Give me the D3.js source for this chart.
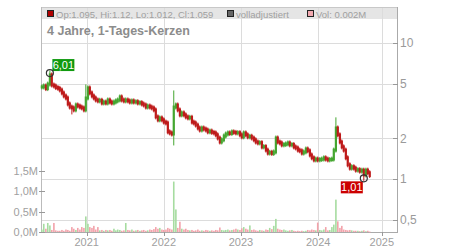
<!DOCTYPE html>
<html>
<head>
<meta charset="utf-8">
<script src="https://cdn.jsdelivr.net/npm/d3@7"></script>
<style>
  body { margin: 0; background: #fff; }
  svg { display: block; font-family: "Liberation Sans", Arial, sans-serif; }
</style>
</head>
<body>
<svg id="chart" width="450" height="250"></svg>
<script>
// candles: one close every ~9.5 days, open = previous close
const startDate = new Date(2020, 5, 3);
const stepDays = 9.46;
const closes = [
  4.75, 4.83, 4.62, 4.99, 5.82, 4.91, 4.83, 4.70, 4.64, 4.51,
  4.29, 4.08, 3.94, 3.56, 3.38, 3.33, 3.22, 3.50, 3.44, 3.38,
  3.33, 3.22, 3.94, 4.67, 4.29, 4.08, 3.94, 3.81, 3.75, 3.79,
  3.62, 3.68, 3.62, 3.81, 3.68, 3.62, 3.68, 3.75, 3.81, 4.01,
  3.81, 3.75, 3.81, 3.75, 3.68, 3.75, 3.68, 3.70, 3.62, 3.64,
  3.56, 3.50, 3.38, 3.44, 3.38, 3.33, 3.22, 2.86, 2.72, 2.81,
  2.72, 2.62, 2.58, 2.22, 2.18, 2.14, 3.38, 3.50, 3.22, 2.96,
  3.06, 2.96, 2.86, 2.81, 2.84, 2.62, 2.58, 2.49, 2.37, 2.29,
  2.37, 2.33, 2.29, 2.22, 2.25, 2.20, 2.18, 2.11, 2.00, 1.87,
  1.94, 2.07, 2.14, 2.18, 2.16, 2.22, 2.20, 2.18, 2.19, 2.11,
  2.04, 2.18, 2.11, 2.04, 2.06, 2.00, 1.94, 1.87, 1.84, 1.85,
  1.72, 1.73, 1.63, 1.55, 1.57, 1.54, 1.58, 2.00, 1.87, 1.84,
  1.78, 1.79, 1.81, 1.84, 1.78, 1.79, 1.72, 1.69, 1.63, 1.61,
  1.55, 1.58, 1.66, 1.61, 1.50, 1.43, 1.38, 1.40, 1.38, 1.39,
  1.40, 1.43, 1.40, 1.38, 1.39, 1.40, 1.63, 2.37, 2.11, 1.87,
  1.72, 1.63, 1.43, 1.27, 1.20, 1.23, 1.20, 1.16, 1.17, 1.14,
  1.16, 1.07, 1.16, 1.11, 1.06
];
// volume in millions, same index as closes
const volumes = [
  0.06, 0.20, 0.08, 0.22, 0.16, 0.05, 0.22, 0.04, 0.03, 0.03,
  0.05, 0.03, 0.06, 0.05, 0.03, 0.12, 0.08, 0.05, 0.10, 0.06,
  0.12, 0.10, 0.38, 0.20, 0.12, 0.10, 0.15, 0.06, 0.12, 0.04,
  0.05, 0.03, 0.05, 0.04, 0.05, 0.03, 0.08, 0.04, 0.06, 0.05,
  0.03, 0.04, 0.22, 0.05, 0.04, 0.06, 0.03, 0.04, 0.05, 0.03,
  0.04, 0.05, 0.03, 0.04, 0.06, 0.05, 0.07, 0.12, 0.08, 0.10,
  0.06, 0.05, 0.06, 0.10, 0.08, 0.06, 1.23, 0.55, 0.10, 0.25,
  0.08, 0.06, 0.08, 0.05, 0.04, 0.05, 0.03, 0.04, 0.06, 0.03,
  0.04, 0.03, 0.05, 0.04, 0.03, 0.04, 0.03, 0.05, 0.04, 0.11,
  0.05, 0.04, 0.05, 0.06, 0.04, 0.05, 0.06, 0.08, 0.06, 0.05,
  0.09, 0.12, 0.08, 0.06, 0.16, 0.05, 0.06, 0.04, 0.03, 0.05,
  0.04, 0.03, 0.06, 0.05, 0.10, 0.07, 0.15, 0.32, 0.08, 0.06,
  0.05, 0.06, 0.04, 0.03, 0.04, 0.05, 0.03, 0.02, 0.03, 0.02,
  0.03, 0.02, 0.03, 0.05, 0.04, 0.06, 0.05, 0.04, 0.23, 0.05,
  0.04, 0.06, 0.12, 0.04, 0.05, 0.12, 0.18, 0.79, 0.26, 0.10,
  0.15, 0.06, 0.05, 0.04, 0.05, 0.04, 0.03, 0.03, 0.03, 0.02,
  0.03, 0.04, 0.02, 0.03, 0.01
];
// wick extremes that stick out of the bodies: [index, value]
const wickHighs = [[4, 6.01], [22, 4.75], [66, 4.29], [147, 2.72]];
const wickLows = [[15, 3.11], [66, 1.84], [161, 1.01]];
const highMark = {index: 4, value: 6.01};
const lowMark = {index: 161, value: 1.01};

const priceTicks = [10, 5, 2, 1, 0.5];
const volumeTicks = [0, 0.5, 1.0, 1.5];
const yearTicks = [
  {label: "2021", date: new Date(2021, 0, 1)},
  {label: "2022", date: new Date(2022, 0, 1)},
  {label: "2023", date: new Date(2023, 0, 1)},
  {label: "2024", date: new Date(2024, 0, 1)},
  {label: "2025", date: new Date(2024, 9, 28)}
];
const legendItems = [
  {text: "Op:1.095, Hi:1.12, Lo:1.012, Cl:1.059", color: "#b00000"},
  {text: "volladjustiert", color: "#666666"},
  {text: "Vol: 0.002M", color: "#f2a9b0"}
];
const title = "4 Jahre, 1-Tages-Kerzen";

const de = d3.formatLocale({decimal: ",", thousands: ".", grouping: [3], currency: ["", " €"]});
const fmtPrice = de.format(".2f");
const fmtVol = v => de.format(".1f")(v) + "M";
const fmtAxis = v => v < 1 ? de.format(".1f")(v) : String(v);

const margin = {top: 7, right: 53, bottom: 18, left: 41};
const width = 450 - margin.left - margin.right;
const height = 250 - margin.top - margin.bottom;
const pLeft = margin.left, pRight = margin.left + width;
const pTop = margin.top, pBottom = margin.top + height;

const data = closes.map((c, i) => {
  const open = i === 0 ? c : closes[i - 1];
  const hi = wickHighs.find(w => w[0] === i);
  const lo = wickLows.find(w => w[0] === i);
  return {
    date: d3.timeDay.offset(startDate, Math.round(i * stepDays)),
    open: open,
    close: c,
    high: hi ? hi[1] : Math.max(open, c),
    low: lo ? lo[1] : Math.min(open, c),
    vol: volumes[i]
  };
});

const x = d3.scaleTime()
  .domain([new Date(2020, 4, 30), new Date(2025, 0, 8)])
  .range([pLeft, pRight]);
const y = d3.scaleLog().domain([0.407, 18.4]).range([pBottom, pTop]);
const yVol = d3.scaleLinear().domain([0, 1.5]).range([pBottom, pBottom - 61.5]);

const svg = d3.select("#chart");
const crisp = v => Math.round(v) + 0.5;
const up = d => d.close >= d.open;

// header band with legend
svg.append("rect")
  .attr("x", pLeft).attr("y", pTop)
  .attr("width", width).attr("height", 12)
  .attr("fill", "#e5e5e5");

// grid
svg.append("g").selectAll("line")
  .data(yearTicks)
  .join("line")
  .attr("x1", d => crisp(x(d.date))).attr("x2", d => crisp(x(d.date)))
  .attr("y1", pTop).attr("y2", pBottom)
  .attr("stroke", "#dcdcdc");
svg.append("g").selectAll("line")
  .data(priceTicks)
  .join("line")
  .attr("x1", pLeft).attr("x2", pRight)
  .attr("y1", d => crisp(y(d))).attr("y2", d => crisp(y(d)))
  .attr("stroke", "#dcdcdc");

// frame
svg.append("line").attr("x1", pLeft).attr("x2", pRight)
  .attr("y1", pTop + 0.5).attr("y2", pTop + 0.5).attr("stroke", "#c8c8c8");
svg.append("line").attr("x1", pLeft + 0.5).attr("x2", pLeft + 0.5)
  .attr("y1", pTop).attr("y2", pBottom).attr("stroke", "#bbbbbb");
svg.append("line").attr("x1", pRight + 0.5).attr("x2", pRight + 0.5)
  .attr("y1", pTop).attr("y2", pBottom + 1).attr("stroke", "#aaaaaa");
svg.append("line").attr("x1", pLeft).attr("x2", pRight + 1)
  .attr("y1", pBottom + 0.5).attr("y2", pBottom + 0.5).attr("stroke", "#aaaaaa");

// legend
const legend = svg.append("g").attr("font-size", 9.5).attr("fill", "#a0a0a0");
const legendX = [pLeft + 6, pLeft + 186, pLeft + 266];
legendItems.forEach((d, i) => {
  legend.append("rect")
    .attr("x", legendX[i] + 0.5).attr("y", pTop + 3.5)
    .attr("width", 6).attr("height", 6)
    .attr("fill", d.color).attr("stroke", "#222");
  legend.append("text")
    .attr("x", legendX[i] + 9).attr("y", pTop + 10.5)
    .text(d.text);
});

svg.append("text")
  .attr("x", pLeft + 6).attr("y", 35)
  .attr("font-size", 12.5).attr("font-weight", "bold")
  .attr("fill", "#8c8c8c")
  .text(title);

// volume bars
svg.append("g").selectAll("rect")
  .data(data)
  .join("rect")
  .attr("x", d => x(d.date) - 0.8)
  .attr("width", 1.6)
  .attr("y", d => yVol(d.vol))
  .attr("height", d => Math.max(0.8, pBottom - yVol(d.vol)))
  .attr("fill", d => up(d) ? "#a6dca0" : "#f2a2aa");

// candles
const candles = svg.append("g").selectAll("g")
  .data(data)
  .join("g")
  .attr("fill", d => up(d) ? "#44a630" : "#be1a1a")
  .attr("stroke", d => up(d) ? "#44a630" : "#be1a1a");
candles.append("line")
  .attr("x1", d => x(d.date)).attr("x2", d => x(d.date))
  .attr("y1", d => y(d.high) - 2.5).attr("y2", d => y(d.low) + 2.5)
  .attr("stroke-width", 1);
candles.append("rect")
  .attr("stroke", "none")
  .attr("x", d => x(d.date) - 1.1)
  .attr("width", 2.2)
  .attr("y", d => Math.min(y(d.open), y(d.close)) - 1.5)
  .attr("height", d => Math.abs(y(d.open) - y(d.close)) + 3);

// price axis (right)
const pAxis = svg.append("g").attr("font-size", 12).attr("fill", "#9a9a9a");
pAxis.selectAll("line")
  .data(priceTicks)
  .join("line")
  .attr("x1", pRight - 4).attr("x2", pRight + 1)
  .attr("y1", d => crisp(y(d))).attr("y2", d => crisp(y(d)))
  .attr("stroke", "#999");
pAxis.selectAll("text")
  .data(priceTicks)
  .join("text")
  .attr("x", pRight + 3).attr("y", d => y(d) + 4.5)
  .text(fmtAxis);

// volume axis (left)
const vAxis = svg.append("g").attr("font-size", 11).attr("fill", "#a0a0a0");
vAxis.selectAll("line")
  .data(volumeTicks)
  .join("line")
  .attr("x1", pLeft - 2).attr("x2", pLeft + 4)
  .attr("y1", d => crisp(yVol(d))).attr("y2", d => crisp(yVol(d)))
  .attr("stroke", "#999");
vAxis.selectAll("text")
  .data(volumeTicks)
  .join("text")
  .attr("x", pLeft - 3).attr("y", d => yVol(d) + 4)
  .attr("text-anchor", "end")
  .text(fmtVol);

// time axis
const tAxis = svg.append("g").attr("font-size", 11).attr("fill", "#a0a0a0");
tAxis.selectAll("line")
  .data(yearTicks)
  .join("line")
  .attr("x1", d => crisp(x(d.date))).attr("x2", d => crisp(x(d.date)))
  .attr("y1", pBottom).attr("y2", pBottom + 4)
  .attr("stroke", "#999");
tAxis.selectAll("text")
  .data(yearTicks)
  .join("text")
  .attr("x", d => x(d.date)).attr("y", pBottom + 14)
  .attr("text-anchor", "middle")
  .text(d => d.label);

// high / low markers
function marker(m, color, dx, dy) {
  const cx = x(data[m.index].date), cy = y(m.value);
  const g = svg.append("g");
  g.append("rect")
    .attr("x", cx + dx).attr("y", cy + dy)
    .attr("width", 22).attr("height", 12)
    .attr("fill", color);
  g.append("text")
    .attr("x", cx + dx + 11).attr("y", cy + dy + 10)
    .attr("text-anchor", "middle")
    .attr("font-size", 11).attr("fill", "#fff")
    .text(fmtPrice(m.value));
  g.append("circle")
    .attr("cx", cx).attr("cy", cy).attr("r", 3.5)
    .attr("fill", "none").attr("stroke", "#333").attr("stroke-width", 1.2);
}
marker(highMark, "#109a10", 2.5, -14);
marker(lowMark, "#cc0000", -23, 3);
</script>
</body>
</html>
